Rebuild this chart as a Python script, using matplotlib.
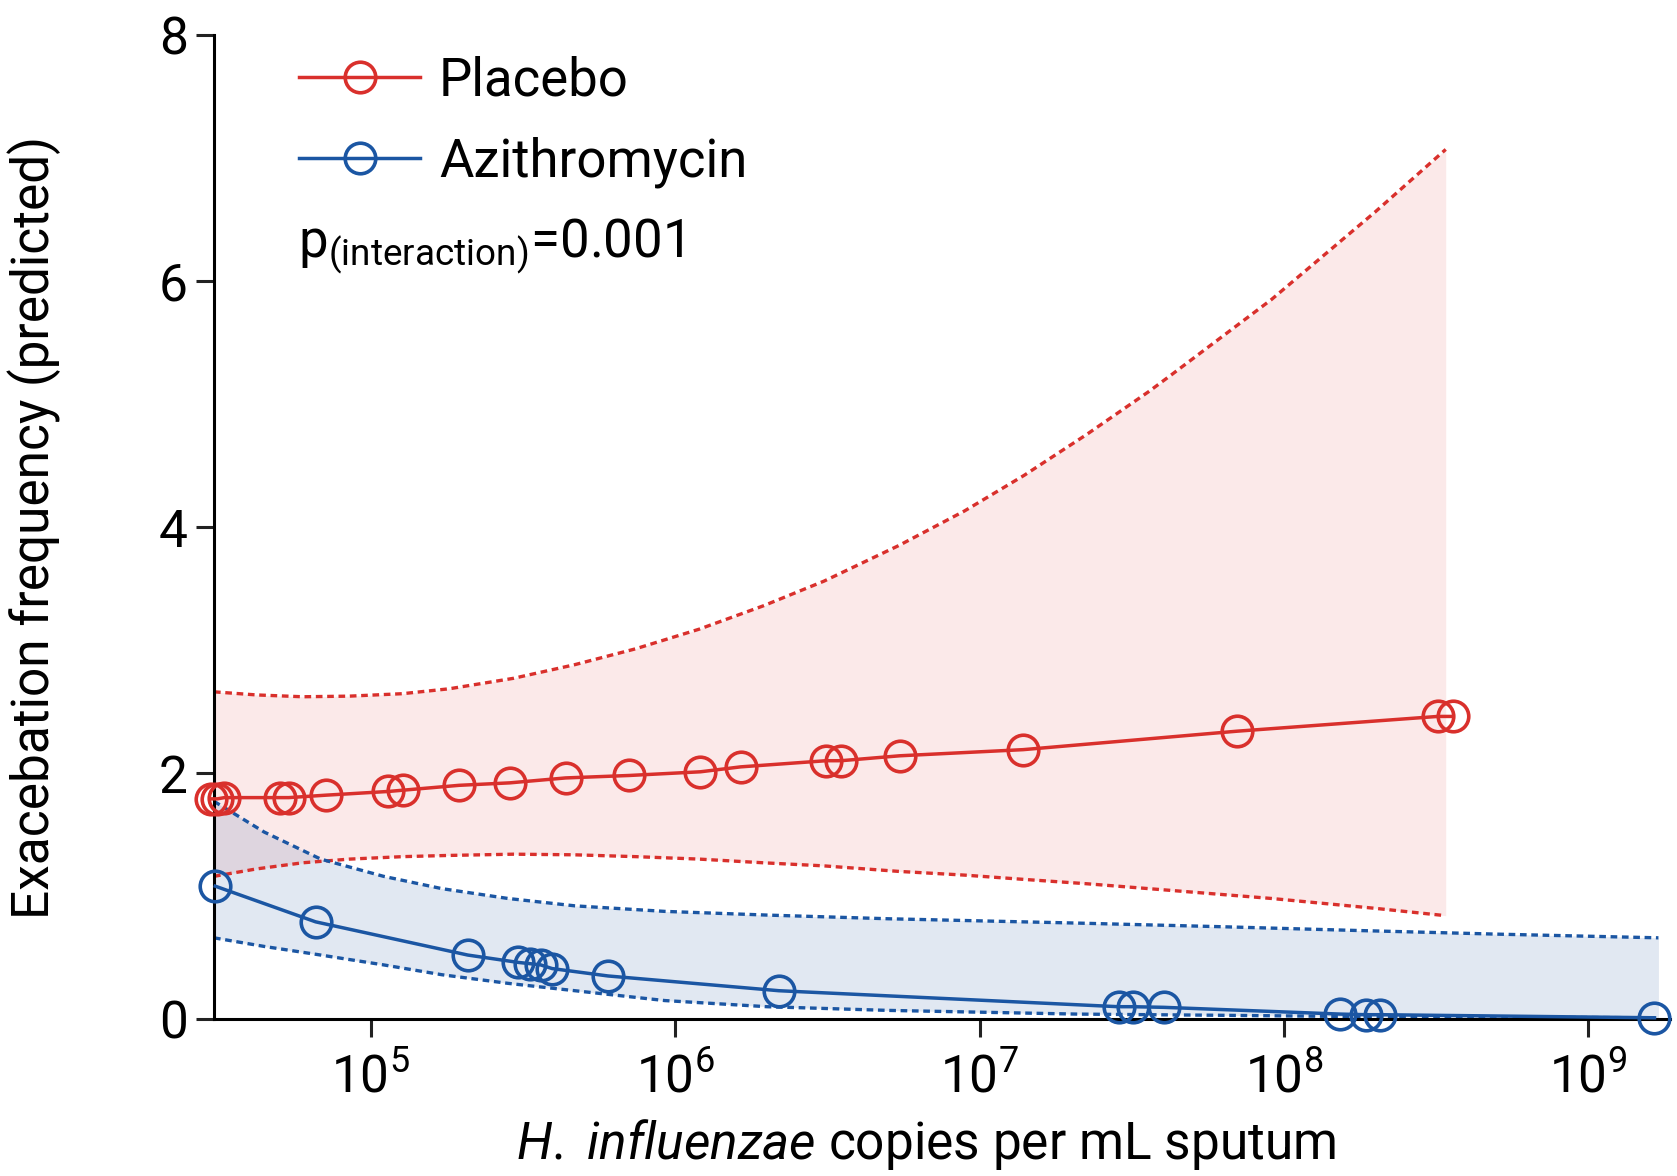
import matplotlib
matplotlib.use("Agg")
import matplotlib.pyplot as plt

plt.rcParams['font.family'] = ['Roboto', 'DejaVu Sans']
plt.rcParams['mathtext.fontset'] = 'custom'
plt.rcParams['mathtext.rm'] = 'Roboto'
plt.rcParams['mathtext.it'] = 'Roboto:italic'

# DATA
placebo_x = [2.98e4, 3.13e4, 3.30e4, 5.04e4, 5.37e4, 7.13e4, 1.14e5, 1.27e5, 1.95e5, 2.86e5,
             4.36e5, 7.06e5, 1.21e6, 1.64e6, 3.13e6, 3.50e6, 5.46e6, 1.39e7, 7.01e7, 3.20e8, 3.58e8]
placebo_y = [1.79, 1.79, 1.80, 1.80, 1.80, 1.82, 1.85, 1.86, 1.90, 1.92,
             1.96, 1.98, 2.01, 2.05, 2.10, 2.10, 2.14, 2.19, 2.34, 2.46, 2.46]

azi_x = [3.08e4, 6.58e4, 2.08e5, 3.05e5, 3.33e5, 3.61e5, 3.94e5, 6.01e5, 2.19e6,
         2.86e7, 3.18e7, 4.02e7, 1.53e8, 1.86e8, 2.07e8, 1.65e9]
azi_y = [1.08, 0.79, 0.52, 0.46, 0.45, 0.44, 0.41, 0.35, 0.23,
         0.10, 0.10, 0.095, 0.04, 0.035, 0.035, 0.01]

placebo_ci_x = [3.05e4, 4.20e4, 5.96e4, 8.50e4, 1.27e5, 1.81e5, 2.94e5, 4.66e5, 7.41e5, 1.20e6,
                1.95e6, 3.08e6, 5.43e6, 8.91e6, 1.40e7, 2.24e7, 3.59e7, 4.28e7, 9.10e7, 1.99e8, 3.40e8]
placebo_ci_hi = [2.66, 2.635, 2.62, 2.625, 2.645, 2.685, 2.77, 2.88, 3.01, 3.17,
                 3.36, 3.56, 3.85, 4.13, 4.42, 4.75, 5.10, 5.24, 5.85, 6.56, 7.07]
placebo_ci_lo = [1.16, 1.22, 1.27, 1.30, 1.32, 1.33, 1.34, 1.335, 1.32, 1.30,
                 1.27, 1.245, 1.20, 1.17, 1.135, 1.10, 1.06, 1.045, 0.98, 0.90, 0.84]

azi_ci_x = [3.05e4, 4.46e4, 6.84e4, 1.10e5, 1.71e5, 2.82e5, 4.68e5, 9.23e5, 2.00e6,
            5.01e6, 2.08e7, 6.31e7, 1.72e8, 5.01e8, 1.70e9]
azi_ci_hi = [1.77, 1.52, 1.30, 1.16, 1.06, 0.98, 0.92, 0.875, 0.845,
             0.815, 0.78, 0.75, 0.72, 0.69, 0.66]
azi_ci_lo = [0.66, 0.59, 0.52, 0.44, 0.36, 0.29, 0.23, 0.15, 0.10,
             0.07, 0.04, 0.03, 0.02, 0.015, 0.01]

RED = '#d9302c'
BLUE = '#1b56a3'

fig = plt.figure(figsize=(16.77, 11.76), dpi=100)
ax = fig.add_axes([0.1276, 0.1335, 0.868, 0.8367])

# confidence bands
ax.fill_between(placebo_ci_x, placebo_ci_lo, placebo_ci_hi, color=RED, alpha=0.1, lw=0)
ax.fill_between(azi_ci_x, azi_ci_lo, azi_ci_hi, color='#1b4f9c', alpha=0.13, lw=0)
dots = (0, (2.0, 1.4))
ax.plot(placebo_ci_x, placebo_ci_hi, color=RED, lw=2.4, ls=dots)
ax.plot(placebo_ci_x, placebo_ci_lo, color=RED, lw=2.4, ls=dots)
ax.plot(azi_ci_x, azi_ci_hi, color=BLUE, lw=2.4, ls=dots)
ax.plot(azi_ci_x, azi_ci_lo, color=BLUE, lw=2.4, ls=dots)

# fitted values
ax.plot(placebo_x, placebo_y, color=RED, lw=2.5, marker='o', ms=22, mfc='none',
        mew=2.6, label='Placebo', clip_on=False, zorder=5)
ax.plot(azi_x, azi_y, color=BLUE, lw=2.5, marker='o', ms=22, mfc='none',
        mew=2.6, label='Azithromycin', clip_on=False, zorder=5)

ax.set_xscale('log')
ax.set_xlim(3.05e4, 1.85e9)
ax.set_ylim(0, 8)
ax.set_yticks([0, 2, 4, 6, 8])
ax.set_xticks([1e5, 1e6, 1e7, 1e8, 1e9])
ax.minorticks_off()

for s in ['top', 'right']:
    ax.spines[s].set_visible(False)
for s in ['left', 'bottom']:
    ax.spines[s].set_linewidth(2.2)

ax.tick_params(axis='both', labelsize=37, width=2.2, length=13, color='#222222')
ax.tick_params(axis='y', pad=6)
ax.tick_params(axis='x', pad=12)

ax.set_ylabel('Exacebation frequency (predicted)', fontsize=37)
ax.set_xlabel(r'$\mathit{H.}$ $\mathit{influenzae}$ copies per mL sputum', fontsize=37)
ax.yaxis.set_label_coords(-0.105, 0.5)
ax.xaxis.set_label_coords(0.489, -0.100)

ax.legend(loc='upper left', bbox_to_anchor=(0.033, 1.017), frameon=False, fontsize=38,
          handlelength=2.3, handletextpad=0.35, labelspacing=0.57, borderaxespad=0.3)

ax.text(0.058, 0.774, r'$\mathregular{p_{(interaction)}}$=0.001', transform=ax.transAxes,
        fontsize=38, ha='left', va='baseline')

fig.savefig('out.png', dpi=100)
